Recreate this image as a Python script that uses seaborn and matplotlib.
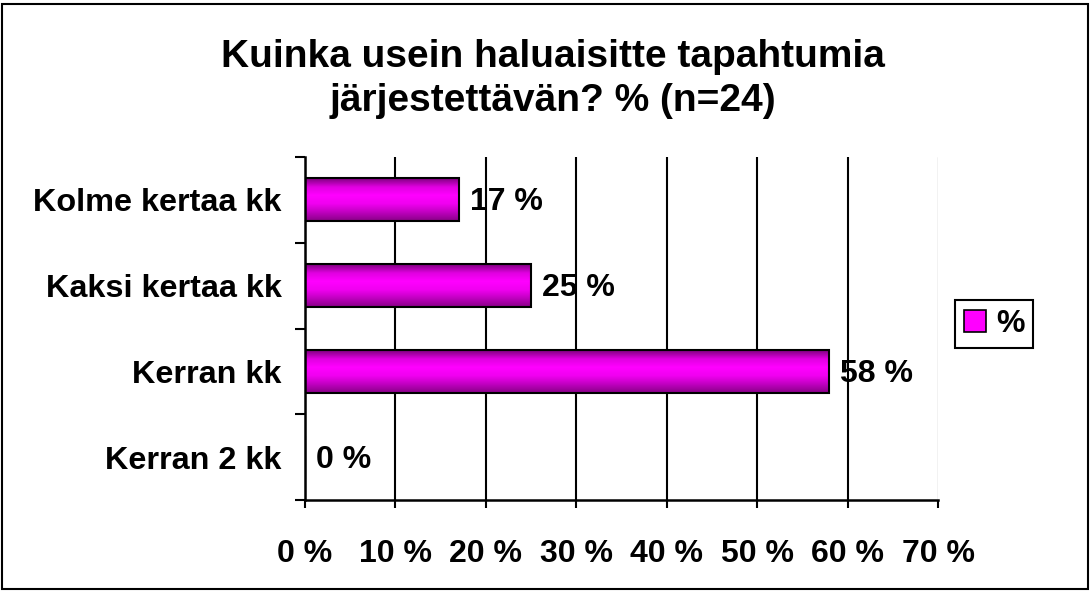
import matplotlib
matplotlib.use('Agg')
import matplotlib.pyplot as plt
import numpy as np
import pandas as pd
import seaborn as sns
from matplotlib.colors import LinearSegmentedColormap
from matplotlib.patches import Patch, Rectangle

sns.set_style("white")
plt.rcParams['font.family'] = ['Liberation Sans', 'DejaVu Sans']
plt.rcParams['font.weight'] = 'bold'
plt.rcParams['text.color'] = 'black'
plt.rcParams['xtick.color'] = 'black'
plt.rcParams['ytick.color'] = 'black'

categories = ["Kolme kertaa kk", "Kaksi kertaa kk", "Kerran kk", "Kerran 2 kk"]
values = [17, 25, 58, 0]
value_labels = ["17 %", "25 %", "58 %", "0 %"]
xticks = [0, 10, 20, 30, 40, 50, 60, 70]
xtick_labels = ["0 %", "10 %", "20 %", "30 %", "40 %", "50 %", "60 %", "70 %"]
title = "Kuinka usein haluaisitte tapahtumia\njärjestettävän? % (n=24)"

df = pd.DataFrame({"cat": categories, "val": values})

fig = plt.figure(figsize=(10.9, 5.91), dpi=100)
ax = fig.add_axes([305 / 1090, 91 / 591, 633 / 1090, 343 / 591])

sns.barplot(data=df, x="val", y="cat", orient="h", width=0.5,
            color="#ff00ff", edgecolor="black", linewidth=1.5, ax=ax, zorder=3)

ax.set_xlim(0, 70)
ax.set_ylim(3.5, -0.5)

# gradient fill, clipped to each bar
grad_cmap = LinearSegmentedColormap.from_list(
    "mag", ["#800080", "#e000e0", "#ff00ff", "#f000f0", "#c000c0", "#8a0088"])
grad = np.linspace(0, 1, 64).reshape(-1, 1)
for p in ax.patches:
    x0, y0 = p.get_x(), p.get_y()
    w, h = p.get_width(), p.get_height()
    if w <= 0:
        continue
    im = ax.imshow(grad, cmap=grad_cmap, aspect="auto", origin="upper",
                   extent=(x0, x0 + w, y0 + h, y0), zorder=2.5)
    im.set_clip_path(p)
    p.set_facecolor("none")
ax.set_aspect("auto")
ax.set_xlim(0, 70)
ax.set_ylim(3.5, -0.5)

# value labels
for i, (v, lab) in enumerate(zip(values, value_labels)):
    ax.text(v + 1.2, i + 0.03, lab, va="center", ha="left", fontsize=23,
            fontweight="bold", color="black", zorder=5)

ax.set_xticks(xticks)
ax.set_xticklabels(xtick_labels, fontsize=23, fontweight="bold")
ax.set_yticks(range(len(categories)))
ax.set_yticklabels(categories, fontsize=23.3, fontweight="bold")
ax.set_yticks([-0.5, 0.5, 1.5, 2.5, 3.5], minor=True)
ax.tick_params(axis="y", which="major", length=0, pad=17, left=True)
ax.tick_params(axis="y", which="minor", length=7, width=1.5, color="black",
               direction="out", left=True)
ax.tick_params(axis="x", length=6, width=1.5, color="black", direction="out",
               pad=22, bottom=True)
ax.set_xlabel("")
ax.set_ylabel("")

ax.grid(axis="x", color="black", linewidth=1.5, zorder=1)
ax.set_axisbelow(True)
ax.get_xgridlines()[-1].set_color("#c0c0c0")
ax.get_xgridlines()[-1].set_linewidth(1.0)

for s in ["top", "right"]:
    ax.spines[s].set_visible(False)
for s in ["left", "bottom"]:
    ax.spines[s].set_color("black")
    ax.spines[s].set_linewidth(1.8)

fig.text(0.507, 0.866, title, ha="center", va="center", fontsize=28,
         fontweight="bold", color="black", linespacing=1.3)

handle = Patch(facecolor="#ff00ff", edgecolor="black", linewidth=1.2)
leg = fig.legend([handle], ["%"], loc="center", bbox_to_anchor=(0.912, 0.452),
                 fancybox=False, edgecolor="black", framealpha=1,
                 handlelength=0.7, handleheight=0.7, handletextpad=0.3,
                 borderpad=0.28, prop={"size": 23, "weight": "bold"})
leg.get_frame().set_linewidth(1.5)

fig.patches.append(Rectangle((0.002, 0.003), 0.996, 0.99, transform=fig.transFigure,
                             fill=False, edgecolor="black", linewidth=1.5))

fig.savefig("out.png", dpi=100)
